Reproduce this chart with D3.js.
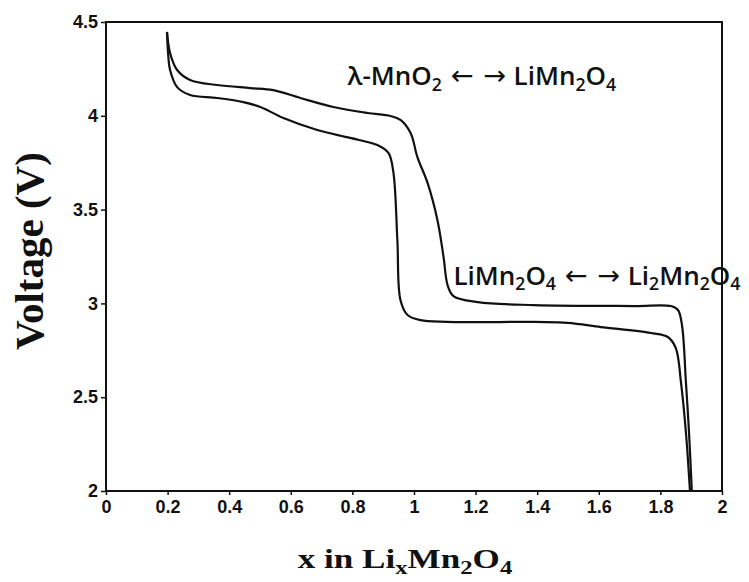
<!DOCTYPE html>
<html>
<head>
<meta charset="utf-8">
<script src="https://cdn.jsdelivr.net/npm/d3@7/dist/d3.min.js"></script>
<style>
  html, body { margin: 0; padding: 0; background: #fff; }
  svg { display: block; }
</style>
</head>
<body>
<script>
// ---- data ----
const xTicks = [0, 0.2, 0.4, 0.6, 0.8, 1, 1.2, 1.4, 1.6, 1.8, 2];
const xTickLabels = ["0", "0.2", "0.4", "0.6", "0.8", "1", "1.2", "1.4", "1.6", "1.8", "2"];
const yTicks = [2, 2.5, 3, 3.5, 4, 4.5];
const yTickLabels = ["2", "2.5", "3", "3.5", "4", "4.5"];

// upper curve (x, V)
const upperX = [0.198, 0.208, 0.231, 0.273, 0.361, 0.468, 0.543, 0.631, 0.738, 0.849, 0.924, 0.956, 0.989, 1.011, 1.044, 1.076, 1.096, 1.109, 1.128, 1.207, 1.389, 1.714, 1.834, 1.857, 1.870, 1.883, 1.893, 1.902];
const upperV = [4.447, 4.335, 4.244, 4.191, 4.164, 4.148, 4.137, 4.095, 4.047, 4.015, 3.999, 3.978, 3.908, 3.780, 3.642, 3.445, 3.247, 3.098, 3.039, 3.007, 2.991, 2.986, 2.986, 2.965, 2.885, 2.576, 2.309, 2.0];

// lower curve (x, V)
const lowerX = [0.198, 0.202, 0.208, 0.231, 0.273, 0.361, 0.446, 0.501, 0.576, 0.686, 0.793, 0.881, 0.917, 0.933, 0.946, 0.956, 0.979, 1.021, 1.389, 1.499, 1.607, 1.769, 1.824, 1.850, 1.867, 1.883, 1.896];
const lowerV = [4.447, 4.324, 4.244, 4.153, 4.111, 4.095, 4.073, 4.047, 3.988, 3.924, 3.882, 3.844, 3.802, 3.700, 3.338, 3.018, 2.938, 2.911, 2.901, 2.896, 2.874, 2.842, 2.821, 2.762, 2.576, 2.309, 2.0];

// annotation anchors (data coords)
const annotX = [0.784, 1.128];
const annotV = [4.165, 3.10];

// ---- layout ----
const W = 749, H = 582;
const margin = { left: 106, right: 27, top: 22, bottom: 91 };

const svg = d3.select("body").append("svg").attr("width", W).attr("height", H);

const x = d3.scaleLinear().domain([0, 2]).range([margin.left, W - margin.right]);
const y = d3.scaleLinear().domain([2, 4.5]).range([H - margin.bottom, margin.top]);

// frame
svg.append("rect")
  .attr("x", x(0)).attr("y", y(4.5))
  .attr("width", x(2) - x(0)).attr("height", y(2) - y(4.5))
  .attr("fill", "none").attr("stroke", "#111").attr("stroke-width", 2);

const tickFont = "'Liberation Sans', Arial, sans-serif";

const xAxis = svg.append("g")
  .attr("transform", `translate(0,${y(2)})`)
  .call(d3.axisBottom(x).tickValues(xTicks).tickSize(4).tickPadding(5)
        .tickFormat((d, i) => xTickLabels[i]));
xAxis.select(".domain").remove();
xAxis.selectAll("line").attr("stroke", "#111").attr("stroke-width", 1.5);
xAxis.selectAll("text").attr("font-family", tickFont).attr("font-size", 18)
  .attr("font-weight", "bold").attr("fill", "#111");

const yAxis = svg.append("g")
  .attr("transform", `translate(${x(0)},0)`)
  .call(d3.axisLeft(y).tickValues(yTicks).tickSize(5).tickPadding(3)
        .tickFormat((d, i) => yTickLabels[i]));
yAxis.select(".domain").remove();
yAxis.selectAll("line").attr("stroke", "#111").attr("stroke-width", 1.5);
yAxis.selectAll("text").attr("font-family", tickFont).attr("font-size", 18)
  .attr("font-weight", "bold").attr("fill", "#111");

// curves
const line = d3.line()
  .x(d => x(d[0])).y(d => y(d[1]))
  .curve(d3.curveCatmullRom.alpha(0.5));

const upper = upperX.map((v, i) => [v, upperV[i]]);
const lower = lowerX.map((v, i) => [v, lowerV[i]]);

[upper, lower].forEach(data => {
  svg.append("path").datum(data)
    .attr("d", line)
    .attr("fill", "none")
    .attr("stroke", "#111")
    .attr("stroke-width", 2.2)
    .attr("stroke-linejoin", "round");
});

// annotations with subscripts
function richText(g, parts, size) {
  const t = g.append("text")
    .attr("font-family", "'Open Sans', 'Noto Sans', sans-serif")
    .attr("font-size", size).attr("font-weight", 600).attr("fill", "#111");
  let lowered = false;
  parts.forEach(p => {
    const dy = p.sub ? (lowered ? 0 : size * 0.22) : (lowered ? -size * 0.22 : 0);
    const ts = t.append("tspan").attr("dy", dy).text(p.t);
    if (p.sub) ts.attr("font-size", size * 0.68);
    if (p.arrow) ts.attr("font-family", "'DejaVu Sans', sans-serif").attr("font-weight", 400)
      .attr("font-size", size * 1.05).attr("dx", size * 0.35);
    if (p.gap) ts.attr("dx", size * 0.3);
    lowered = !!p.sub;
  });
  return t;
}

richText(svg.append("g").attr("transform", `translate(${x(annotX[0])},${y(annotV[0])})`), [
  { t: "λ-MnO" }, { t: "2", sub: true }, { t: "\u2190", arrow: true }, { t: "\u2192", arrow: true },
  { t: "LiMn", gap: true }, { t: "2", sub: true }, { t: "O" }, { t: "4", sub: true }
], 26);

richText(svg.append("g").attr("transform", `translate(${x(annotX[1])},${y(annotV[1])})`), [
  { t: "LiMn" }, { t: "2", sub: true }, { t: "O" }, { t: "4", sub: true },
  { t: "\u2190", arrow: true }, { t: "\u2192", arrow: true },
  { t: "Li", gap: true }, { t: "2", sub: true }, { t: "Mn" }, { t: "2", sub: true },
  { t: "O" }, { t: "4", sub: true }
], 26);

// axis titles
const serif = "'Liberation Serif', 'Times New Roman', serif";
svg.append("text")
  .attr("transform", `translate(43,251) rotate(-90)`)
  .attr("text-anchor", "middle")
  .attr("font-family", serif).attr("font-size", 41).attr("font-weight", "bold")
  .attr("fill", "#111")
  .text("Voltage (V)");

const xt = svg.append("text")
  .attr("transform", `translate(${(x(0) + x(2)) / 2 - 9},568) scale(1.3,1)`)
  .attr("text-anchor", "middle")
  .attr("font-family", serif).attr("font-size", 27).attr("font-weight", "bold")
  .attr("fill", "#111");
xt.append("tspan").text("x in Li");
xt.append("tspan").attr("font-size", 19).attr("dy", 6).text("x");
xt.append("tspan").attr("dy", -6).text("Mn");
xt.append("tspan").attr("font-size", 19).attr("dy", 6).text("2");
xt.append("tspan").attr("dy", -6).text("O");
xt.append("tspan").attr("font-size", 19).attr("dy", 6).text("4");
</script>
</body>
</html>
